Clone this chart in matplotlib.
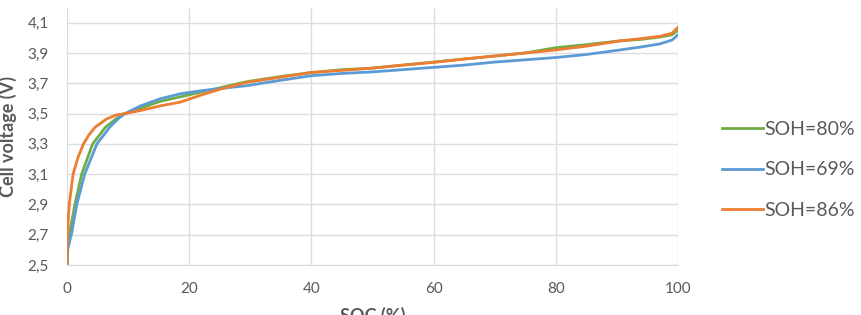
import matplotlib
matplotlib.use("Agg")
import matplotlib.pyplot as plt

# Cell voltage vs state of charge for three states of health
soc_80 = [0, 0.1, 0.6, 1.3, 2.4, 4.2, 6.3, 8, 9.5, 12, 15.2, 18.5, 21.8, 25, 29.4, 35, 40, 45,
          50, 55, 60, 65, 70, 75, 80, 85, 90.5, 94, 97, 99, 100]
v_80 = [2.50, 2.62, 2.75, 2.90, 3.10, 3.30, 3.41, 3.465, 3.50, 3.535, 3.58, 3.61, 3.64, 3.67,
        3.71, 3.745, 3.77, 3.79, 3.80, 3.82, 3.84, 3.86, 3.88, 3.90, 3.935, 3.955, 3.98, 3.99,
        4.005, 4.02, 4.05]

soc_69 = [0, 0.1, 0.76, 1.6, 2.9, 4.9, 7.0, 8.5, 9.5, 12, 15.2, 18.5, 21.8, 25, 29.4, 35, 40,
          45, 50, 55, 60, 65, 70, 75, 80, 85, 90.5, 94, 97, 99, 100]
v_69 = [2.50, 2.60, 2.71, 2.90, 3.10, 3.30, 3.41, 3.47, 3.50, 3.55, 3.597, 3.63, 3.65, 3.665,
        3.684, 3.72, 3.75, 3.765, 3.775, 3.79, 3.805, 3.82, 3.84, 3.855, 3.87, 3.89, 3.92, 3.94,
        3.96, 3.985, 4.02]

soc_86 = [0, 0.05, 0.4, 1.0, 1.8, 2.7, 3.6, 4.6, 6.5, 8, 9.5, 12, 15.2, 18.5, 21.8, 25, 29.4,
          35, 40, 45, 50, 55, 60, 65, 70, 75, 80, 85, 90.5, 94, 97, 99, 99.5, 100]
v_86 = [2.50, 2.71, 2.91, 3.10, 3.21, 3.30, 3.36, 3.41, 3.465, 3.49, 3.50, 3.52, 3.55, 3.575,
        3.62, 3.66, 3.706, 3.74, 3.772, 3.785, 3.80, 3.82, 3.838, 3.86, 3.88, 3.90, 3.92, 3.945,
        3.98, 3.995, 4.01, 4.03, 4.05, 4.07]

y_ticks = [2.5, 2.7, 2.9, 3.1, 3.3, 3.5, 3.7, 3.9, 4.1]
x_ticks = [0, 20, 40, 60, 80, 100]

plt.rcParams['font.family'] = ['Lato', 'DejaVu Sans']
grey = '#595959'

fig = plt.figure(figsize=(8.61, 3.15), dpi=100)
ax = fig.add_axes([0.0778, 0.1587, 0.7097, 0.8159])

ax.plot(soc_80, v_80, color='#70AD47', linewidth=2, label='SOH=80%')
ax.plot(soc_69, v_69, color='#5B9BD5', linewidth=2, label='SOH=69%')
ax.plot(soc_86, v_86, color='#ED7D31', linewidth=2, label='SOH=86%')

ax.set_xlim(0, 100)
ax.set_ylim(2.5, 4.197)
ax.set_xticks(x_ticks)
ax.set_yticks(y_ticks)
ax.set_yticklabels([f"{t:.1f}".replace('.', ',') for t in y_ticks])
ax.tick_params(length=0, labelsize=11, labelcolor=grey)
ax.tick_params(axis='y', pad=13)
ax.tick_params(axis='x', pad=12)
ax.grid(True, color='#DDDDDD', linewidth=1)
ax.set_axisbelow(True)
for s in ['top', 'right', 'left']:
    ax.spines[s].set_visible(False)
ax.spines['bottom'].set_color('#D9D9D9')

ax.set_ylabel('Cell voltage (V)', fontsize=13, fontweight='bold', color=grey)
ax.yaxis.set_label_coords(-0.082, 0.5)
ax.set_xlabel('SOC (%)', fontsize=13, fontweight='bold', color=grey, labelpad=8)

leg = ax.legend(loc='center left', bbox_to_anchor=(1.072, 0.37), frameon=False,
                fontsize=14, handlelength=2.1, handletextpad=0.1, labelspacing=1.2,
                borderaxespad=0, borderpad=0)
for t in leg.get_texts():
    t.set_color(grey)

fig.savefig('out.png', dpi=100)
